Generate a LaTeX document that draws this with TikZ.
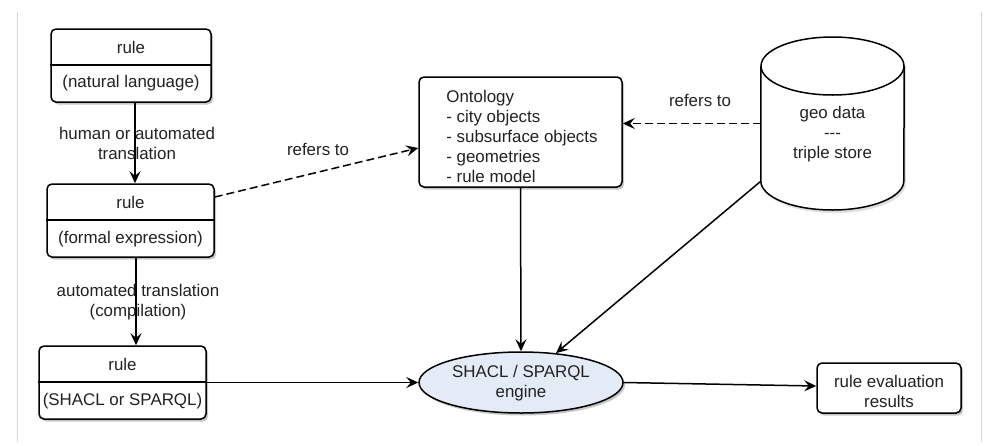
\documentclass[tikz,border=0pt]{standalone}
\usepackage{fontspec}
\setmainfont{Liberation Sans}
\usetikzlibrary{arrows.meta,shapes.geometric,shadows}
\definecolor{txt}{HTML}{222222}
\definecolor{engfill}{HTML}{E3EBF7}
\definecolor{frame}{HTML}{D8D8D8}
\tikzset{
  lbl/.style={font=\fontsize{16.9}{20}\selectfont, text=txt, inner sep=0pt, align=center},
  shade/.style={drop shadow={shadow xshift=2pt, shadow yshift=-2.5pt, opacity=0.22, fill=black}},
  rulebox/.style={draw, line width=1.5pt, rounded corners=5pt, fill=white, shade,
    minimum width=#1, minimum height=73pt, inner sep=0pt},
  plainbox/.style={draw, line width=1.5pt, rounded corners=5pt, fill=white, shade, inner sep=0pt},
  arr/.style={line width=1.5pt, -{Stealth[length=12pt, width=11pt, inset=4.5pt]}},
  dasharr/.style={arr, dash pattern=on 8pt off 4pt},
}
\begin{document}
\begin{tikzpicture}[x=1pt, y=-1pt]
\useasboundingbox (0,0) rectangle (984,445);

% page edges
\draw[frame, line width=1pt] (17,12) -- (17,442);
\draw[frame, line width=1pt] (981,12) -- (981,442);

% three stages of a rule
\node[rulebox=160pt] (r1) at (131,65.5) {};
\draw[line width=1.5pt] (r1.west |- 0,65) -- (r1.east |- 0,65);
\node[lbl] (r1h) at (131,47) {rule};
\node[lbl] (r1b) at (131,83.5) {(natural language)};

\node[rulebox=167pt] (r2) at (130.5,220.5) {};
\draw[line width=1.5pt] (r2.west |- 0,220) -- (r2.east |- 0,220);
\node[lbl] (r2h) at (130.5,202.5) {rule};
\node[lbl] (r2b) at (130.5,239) {(formal expression)};

\node[rulebox=167pt] (r3) at (122.5,382.5) {};
\draw[line width=1.5pt] (r3.west |- 0,382) -- (r3.east |- 0,382);
\node[lbl] (r3h) at (122.5,364.5) {rule};
\node[lbl] (r3b) at (122.5,401) {(SHACL or SPARQL)};

% ontology
\node[plainbox, minimum width=203pt, minimum height=110pt] (ont) at (520.5,132) {};
\node[lbl, align=left] (ontt) at (522,136.5) {Ontology\\- city objects\\- subsurface objects\\- geometries\\- rule model};

% geo data store
\node[minimum width=143pt, minimum height=173pt, inner sep=0pt] (geo) at (832.5,123.5) {};
\fill[black, opacity=0.12] ([xshift=2pt]geo.north west |- 0,66) -- ([xshift=2pt]geo.south west |- 0,184)
  arc[start angle=180, end angle=360, x radius=71.5pt, y radius=29pt] -- ([xshift=2pt]geo.north east |- 0,66) -- cycle;
\filldraw[fill=white, line width=1.5pt] (geo.north west |- 0,66) -- (geo.south west |- 0,181)
  arc[start angle=180, end angle=360, x radius=71.5pt, y radius=29pt] -- (geo.north east |- 0,66);
\filldraw[fill=white, line width=1.5pt] (geo.north |- 0,66) ellipse[x radius=71.5pt, y radius=29pt];
\node[lbl] (geot) at (832.5,134.5) {geo data\\-{}-{}-\\triple store};
\coordinate (geoc) at ([yshift=29pt]geo.south west);

% engine and result
\node[ellipse, draw, line width=1.5pt, fill=engfill, shade, minimum width=204pt, minimum height=61pt, inner sep=0pt] (eng) at (521,382.5) {};
\node[lbl] (engt) at (521,383.5) {SHACL / SPARQL\\engine};

\node[plainbox, minimum width=144pt, minimum height=50pt] (res) at (889,388) {};
\node[lbl] (rest) at (889,391.5) {rule evaluation\\results};

% connectors
\coordinate (c1) at (135,0);
\coordinate (c2) at (136,0);
\draw[arr] (r1.south -| c1) -- (r2.north -| c1);
\node[lbl] (l1) at (137,143) {human or automated\\translation};
\draw[arr] (r2.south -| c2) -- (r3.north -| c2);
\node[lbl] (l2) at (138,302) {automated translation\\(compilation)};

\draw[dasharr] ([yshift=23.5pt]r2.east) -- ([yshift=-16pt]ont.west);
\node[lbl] (l3) at (318,149) {refers to};

\draw[dasharr] (geo.west) -- (ont.east |- geo.west);
\node[lbl] (l4) at (700,100) {refers to};

\draw[arr] (ont.south) -- (eng.north);
\draw[arr] (geoc) -- (eng);
\draw[arr] (r3.east) -- (eng.west);
\draw[arr] (eng.east) -- ([yshift=2pt]res.west);
\end{tikzpicture}
\end{document}
